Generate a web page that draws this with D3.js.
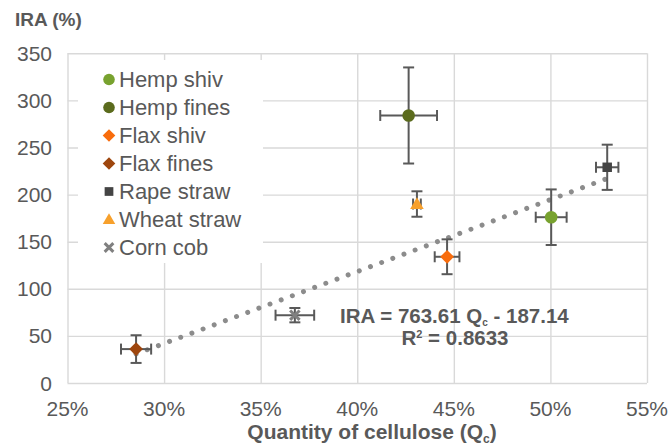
<!DOCTYPE html>
<html>
<head>
<meta charset="utf-8">
<script src="https://cdn.jsdelivr.net/npm/d3@7"></script>
<style>
  html, body { margin: 0; padding: 0; background: #fff; }
  svg text { font-family: "Liberation Sans", Arial, sans-serif; fill: #595959; }
</style>
</head>
<body>
<svg id="chart" width="672" height="446"></svg>
<script>
// ---------- data ----------
const seriesNames = ["Hemp shiv", "Hemp fines", "Flax shiv", "Flax fines", "Rape straw", "Wheat straw", "Corn cob"];
const cellulose   = [0.5004, 0.4266, 0.4465, 0.2855, 0.5294, 0.4309, 0.3677];   // Qc
const iraValues   = [176, 284, 134, 36, 229, 190, 72];                            // IRA (%)
const errX        = [0.0080, 0.0147, 0.0064, 0.0078, 0.0058, 0.0020, 0.0100];
const errY        = [29.5, 51, 18.5, 14.7, 24, 13.5, 7.6];
const xTicks      = [0.25, 0.30, 0.35, 0.40, 0.45, 0.50, 0.55];
const yTicks      = [0, 50, 100, 150, 200, 250, 300, 350];
const trendSlope  = 763.61;
const trendIntercept = -187.14;
const rSquared    = "0.8633";

// ---------- styles ----------
const markerShape = ["circle", "circle", "diamond", "diamond", "square", "triangle", "cross"];
const markerColor = ["#78a22f", "#5b6b1d", "#f86c0c", "#9e460e", "#444444", "#f7a02c", "#808080"];

const svg = d3.select("#chart");
const plot = { left: 67.5, right: 647, top: 53.3, bottom: 383 };

const x = d3.scaleLinear().domain([0.25, 0.55]).range([plot.left, plot.right]);
const y = d3.scaleLinear().domain([0, 350]).range([plot.bottom, plot.top]);

const grid = "#d9d9d9";

// gridlines via axes
svg.append("g")
  .attr("transform", `translate(0,${plot.bottom})`)
  .call(d3.axisBottom(x).tickValues(xTicks).tickSize(-(plot.bottom - plot.top)).tickFormat(""))
  .call(g => g.select(".domain").remove())
  .call(g => g.selectAll("line").attr("stroke", grid).attr("stroke-width", 1.4));

svg.append("g")
  .attr("transform", `translate(${plot.left},0)`)
  .call(d3.axisLeft(y).tickValues(yTicks).tickSize(-(plot.right - plot.left)).tickFormat(""))
  .call(g => g.select(".domain").remove())
  .call(g => g.selectAll("line").attr("stroke", grid).attr("stroke-width", 1.4));

// tick labels
svg.append("g").selectAll("text").data(yTicks).join("text")
  .attr("x", 52).attr("y", d => y(d)).attr("dy", "0.36em")
  .attr("text-anchor", "end").attr("font-size", 21)
  .text(d => d);

svg.append("g").selectAll("text").data(xTicks).join("text")
  .attr("x", d => x(d)).attr("y", 416)
  .attr("text-anchor", "middle").attr("font-size", 21)
  .text(d => d3.format(".0%")(d));

// axis titles
svg.append("text").attr("x", 15).attr("y", 26)
  .attr("font-size", 19).attr("font-weight", "bold").text("IRA (%)");

const xt = svg.append("text").attr("x", 372).attr("y", 439)
  .attr("text-anchor", "middle").attr("font-size", 21).attr("font-weight", "bold");
xt.append("tspan").text("Quantity of cellulose (Q");
xt.append("tspan").attr("font-size", 12).attr("dy", 4).text("c");
xt.append("tspan").attr("dy", -4).text(")");

// trendline
const xExt = d3.extent(cellulose);
const trendPts = xExt.map(q => [q, trendSlope * q + trendIntercept]);
svg.append("path")
  .attr("d", d3.line().x(d => x(d[0])).y(d => y(d[1]))(trendPts))
  .attr("fill", "none").attr("stroke", "#8c8c8c").attr("stroke-width", 5)
  .attr("stroke-linecap", "round").attr("stroke-dasharray", "0.01 11.9");

// error bars
const ebColor = "#595959", cap = 5.5;
const pts = seriesNames.map((n, i) => ({ n, i, q: cellulose[i], v: iraValues[i], ex: errX[i], ey: errY[i] }));
const eb = svg.append("g").attr("stroke", ebColor).attr("stroke-width", 2).attr("fill", "none");
pts.forEach(p => {
  const cx = x(p.q), cy = y(p.v);
  const y1 = y(p.v + p.ey), y2 = y(p.v - p.ey);
  const x1 = x(p.q - p.ex), x2 = x(p.q + p.ex);
  eb.append("line").attr("x1", cx).attr("x2", cx).attr("y1", y1).attr("y2", y2);
  eb.append("line").attr("x1", cx - cap).attr("x2", cx + cap).attr("y1", y1).attr("y2", y1);
  eb.append("line").attr("x1", cx - cap).attr("x2", cx + cap).attr("y1", y2).attr("y2", y2);
  eb.append("line").attr("x1", x1).attr("x2", x2).attr("y1", cy).attr("y2", cy);
  eb.append("line").attr("x1", x1).attr("x2", x1).attr("y1", cy - cap).attr("y2", cy + cap);
  eb.append("line").attr("x1", x2).attr("x2", x2).attr("y1", cy - cap).attr("y2", cy + cap);
});

// markers
function drawMarker(g, shape, color, cx, cy, s) {
  if (shape === "circle") {
    g.append("circle").attr("cx", cx).attr("cy", cy).attr("r", 6.3 * s).attr("fill", color);
  } else if (shape === "diamond") {
    g.append("path").attr("d", d3.symbol(d3.symbolDiamond2, 120 * s * s)()).attr("transform", `translate(${cx},${cy})`).attr("fill", color);
  } else if (shape === "square") {
    g.append("path").attr("d", d3.symbol(d3.symbolSquare, 90 * s * s)()).attr("transform", `translate(${cx},${cy})`).attr("fill", color);
  } else if (shape === "triangle") {
    g.append("path").attr("d", d3.symbol(d3.symbolTriangle, 80 * s * s)()).attr("transform", `translate(${cx},${cy + 1})`).attr("fill", color);
  } else if (shape === "cross") {
    g.append("path").attr("d", d3.symbol(d3.symbolTimes, 60 * s * s)()).attr("transform", `translate(${cx},${cy})`)
      .attr("fill", "none").attr("stroke", color).attr("stroke-width", 3);
  }
}
const mk = svg.append("g");
pts.forEach(p => drawMarker(mk, markerShape[p.i], markerColor[p.i], x(p.q), y(p.v), 1));

// legend
const lg = svg.append("g");
lg.append("rect").attr("x", 78).attr("y", 60).attr("width", 185).attr("height", 203).attr("fill", "#fff");
seriesNames.forEach((n, i) => {
  const by = 87 + i * 28;
  drawMarker(lg, markerShape[i], markerColor[i], 109, by - 7.5, 0.92);
  lg.append("text").attr("x", 119).attr("y", by).attr("font-size", 22).text(n);
});

// equation
const eq = svg.append("text").attr("x", 340).attr("y", 323).attr("font-size", 20.5).attr("font-weight", "bold");
eq.append("tspan").text(`IRA = ${trendSlope} Q`);
eq.append("tspan").attr("font-size", 10).attr("dy", 3).text("c");
eq.append("tspan").attr("dy", -3).text(` - ${Math.abs(trendIntercept)}`);
const r2 = svg.append("text").attr("x", 455).attr("y", 345).attr("text-anchor", "middle").attr("font-size", 20.5).attr("font-weight", "bold");
r2.append("tspan").text("R");
r2.append("tspan").attr("font-size", 11).attr("dy", -7).text("2");
r2.append("tspan").attr("dy", 7).text(` = ${rSquared}`);
</script>
</body>
</html>
